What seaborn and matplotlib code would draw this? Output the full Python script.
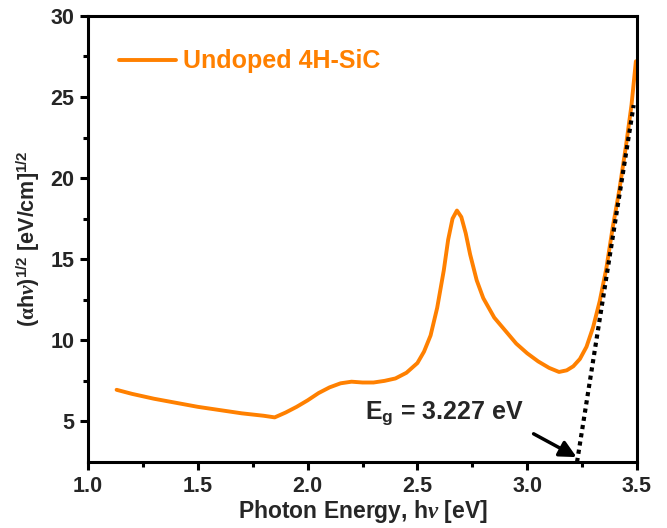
import matplotlib
matplotlib.use("Agg")
import matplotlib.pyplot as plt
import seaborn as sns
import pandas as pd

energy = [1.13, 1.2, 1.3, 1.4, 1.5, 1.6, 1.7, 1.8, 1.85, 1.9, 1.95, 2.0, 2.05, 2.1, 2.15,
          2.2, 2.25, 2.3, 2.35, 2.4, 2.45, 2.5, 2.53, 2.56, 2.59, 2.62, 2.64, 2.66, 2.68,
          2.70, 2.72, 2.74, 2.77, 2.8, 2.85, 2.9, 2.95, 3.0, 3.05, 3.1, 3.145, 3.18, 3.21,
          3.24, 3.27, 3.3, 3.33, 3.36, 3.39, 3.42, 3.45, 3.475, 3.495]
tauc = [6.95, 6.7, 6.4, 6.15, 5.9, 5.7, 5.5, 5.35, 5.25, 5.55, 5.9, 6.3, 6.75, 7.1, 7.35,
        7.45, 7.4, 7.4, 7.5, 7.65, 8.0, 8.6, 9.3, 10.3, 12.0, 14.3, 16.2, 17.5, 18.0,
        17.6, 16.6, 15.3, 13.7, 12.6, 11.4, 10.6, 9.8, 9.2, 8.7, 8.3, 8.05, 8.15, 8.4,
        8.85, 9.6, 10.8, 12.4, 14.4, 17.0, 19.3, 22.0, 24.5, 27.2]
fit_x = [3.227, 3.485]
fit_y = [2.5, 24.5]
series_label = "Undoped 4H-SiC"
eg_label = "3.227"
xticks = [1.0, 1.5, 2.0, 2.5, 3.0, 3.5]
yticks = [5, 10, 15, 20, 25, 30]

sns.set_theme(style="ticks")
plt.rcParams["font.family"] = ["Liberation Sans", "DejaVu Sans"]
plt.rcParams["font.weight"] = "bold"
plt.rcParams["mathtext.fontset"] = "custom"
plt.rcParams["mathtext.rm"] = "Liberation Sans:bold"
plt.rcParams["mathtext.bf"] = "Liberation Sans:bold"
plt.rcParams["mathtext.sf"] = "Liberation Serif:bold"
plt.rcParams["mathtext.it"] = "Liberation Serif:bold:italic"

fig = plt.figure(figsize=(6.67, 5.28), dpi=100)
ax = fig.add_axes([0.132, 0.125, 0.823, 0.845])

orange = "#FF8000"
df = pd.DataFrame({"E": energy, "T": tauc})
sns.lineplot(data=df, x="E", y="T", ax=ax, color=orange, lw=2.8, label=series_label, sort=False)
ax.plot(fit_x, fit_y, color="black", lw=3, linestyle=(0, (1, 1)))

ax.set_xlim(1.0, 3.5)
ax.set_ylim(2.5, 30)
ax.set_xticks(xticks)
ax.set_yticks(yticks)
ax.set_xticks([1.25, 1.75, 2.25, 2.75, 3.25], minor=True)
ax.set_yticks([7.5, 12.5, 17.5, 22.5, 27.5], minor=True)
ax.set_xticklabels([f"{v:.1f}" for v in xticks])
ax.set_yticklabels([str(v) for v in yticks])
ax.tick_params(axis="both", which="major", length=6, width=2.2, labelsize=15.5, direction="out", pad=4, color="black")
ax.tick_params(axis="both", which="minor", length=3.5, width=2.2, direction="out", color="black")
for lab in ax.get_xticklabels() + ax.get_yticklabels():
    lab.set_fontweight("bold")
for s in ax.spines.values():
    s.set_visible(True)
    s.set_linewidth(2.2)
    s.set_color("black")

ax.set_xlabel(r"Photon Energy, h$\it{\nu}$ [eV]", fontsize=16.5, fontweight="bold", labelpad=1)
ax.set_ylabel(r"($\mathsf{\alpha}$h$\it{\nu}$)$^{1/2}$ [eV/cm]$^{1/2}$", fontsize=15.5, fontweight="bold", labelpad=6)

ax.text(2.26, 5.12, r"E$_\mathrm{g}$ = " + eg_label + " eV", fontsize=18, fontweight="bold", va="baseline", ha="left")
ax.annotate("", xy=(3.236, 2.72), xytext=(3.018, 4.32),
            arrowprops=dict(arrowstyle="-|>", color="black", lw=2.5, mutation_scale=25))

leg = ax.legend(loc="upper left", frameon=False, fontsize=18, handlelength=2.3,
                handletextpad=0.25, bbox_to_anchor=(0.015, 0.975))
for t in leg.get_texts():
    t.set_color(orange)
    t.set_fontweight("bold")

fig.savefig("out.png", dpi=100)
